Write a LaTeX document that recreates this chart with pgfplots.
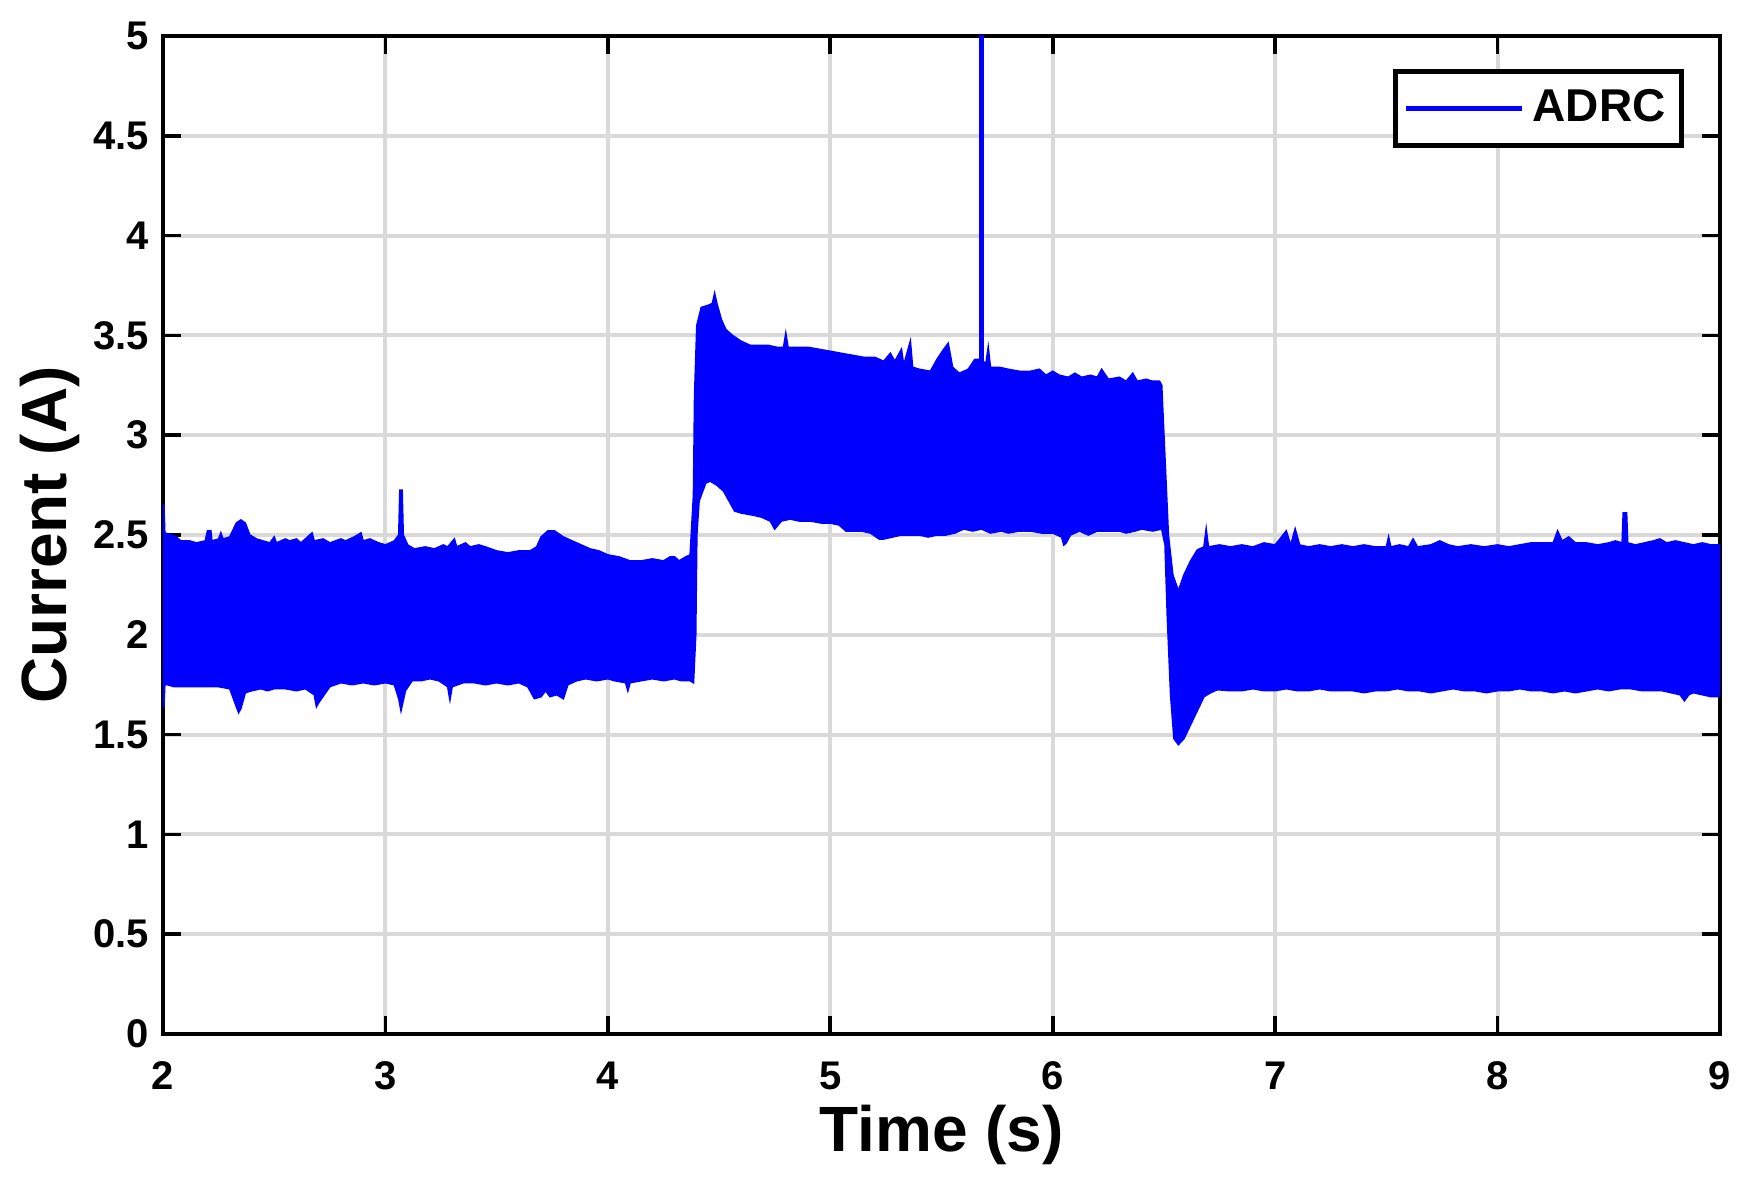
\documentclass[border=0pt]{standalone}
\usepackage{fontspec}
\setmainfont{Liberation Sans}
\usepackage{pgfplots}
\pgfplotsset{compat=1.18}
\usepackage{pgfplotstable}

\pgfplotstableread{
t y
2.000 2.65
2.004 2.65
2.008 2.51
2.04 2.50
2.06 2.49
2.08 2.47
2.12 2.47
2.15 2.46
2.19 2.47
2.20 2.52
2.215 2.52
2.22 2.47
2.25 2.48
2.26 2.51
2.27 2.48
2.30 2.49
2.33 2.56
2.35 2.575
2.37 2.56
2.39 2.50
2.42 2.48
2.45 2.47
2.48 2.46
2.50 2.49
2.51 2.46
2.55 2.48
2.57 2.47
2.60 2.48
2.62 2.46
2.66 2.50
2.67 2.51
2.68 2.47
2.72 2.48
2.75 2.46
2.80 2.48
2.82 2.47
2.86 2.49
2.89 2.51
2.90 2.47
2.93 2.48
2.97 2.46
3.00 2.45
3.04 2.47
3.06 2.50
3.065 2.725
3.075 2.725
3.08 2.50
3.10 2.45
3.13 2.43
3.18 2.44
3.22 2.43
3.26 2.45
3.28 2.44
3.31 2.48
3.32 2.44
3.36 2.46
3.38 2.44
3.42 2.45
3.45 2.44
3.50 2.42
3.55 2.41
3.60 2.42
3.65 2.42
3.68 2.44
3.70 2.49
3.73 2.52
3.76 2.52
3.80 2.49
3.84 2.47
3.88 2.45
3.92 2.43
3.96 2.42
4.00 2.40
4.05 2.39
4.10 2.37
4.15 2.37
4.20 2.38
4.25 2.37
4.28 2.39
4.30 2.39
4.32 2.37
4.35 2.39
4.37 2.40
4.385 2.70
4.39 3.20
4.40 3.55
4.42 3.64
4.45 3.65
4.47 3.66
4.48 3.71
4.49 3.66
4.51 3.58
4.53 3.53
4.56 3.50
4.60 3.47
4.64 3.45
4.68 3.45
4.72 3.45
4.76 3.44
4.79 3.44
4.80 3.51
4.81 3.44
4.85 3.44
4.90 3.44
4.95 3.43
5.00 3.42
5.05 3.41
5.10 3.40
5.15 3.39
5.20 3.39
5.24 3.37
5.27 3.41
5.29 3.37
5.32 3.43
5.33 3.35
5.36 3.47
5.37 3.34
5.40 3.33
5.45 3.32
5.48 3.38
5.51 3.43
5.53 3.46
5.55 3.34
5.58 3.31
5.62 3.33
5.65 3.38
5.67 3.38
5.70 3.36
5.71 3.44
5.72 3.34
5.76 3.34
5.80 3.33
5.85 3.32
5.90 3.32
5.94 3.33
5.97 3.30
6.00 3.32
6.03 3.30
6.07 3.29
6.10 3.31
6.13 3.29
6.17 3.30
6.20 3.29
6.22 3.33
6.25 3.28
6.30 3.29
6.33 3.27
6.36 3.31
6.38 3.27
6.42 3.28
6.45 3.27
6.48 3.27
6.49 3.25
6.50 3.00
6.52 2.50
6.54 2.30
6.565 2.22
6.59 2.30
6.62 2.37
6.65 2.425
6.68 2.44
6.69 2.53
6.70 2.44
6.75 2.45
6.80 2.44
6.85 2.45
6.90 2.44
6.95 2.46
7.00 2.45
7.05 2.52
7.07 2.45
7.09 2.53
7.11 2.45
7.15 2.44
7.20 2.45
7.25 2.44
7.30 2.45
7.35 2.44
7.40 2.45
7.45 2.44
7.50 2.44
7.51 2.49
7.52 2.44
7.56 2.45
7.60 2.44
7.62 2.48
7.64 2.44
7.70 2.45
7.74 2.47
7.78 2.45
7.82 2.44
7.88 2.45
7.94 2.44
8.00 2.45
8.05 2.44
8.10 2.45
8.15 2.46
8.20 2.46
8.25 2.46
8.27 2.52
8.29 2.47
8.32 2.49
8.35 2.46
8.40 2.46
8.45 2.45
8.50 2.46
8.53 2.47
8.56 2.46
8.565 2.61
8.58 2.61
8.585 2.46
8.62 2.45
8.66 2.46
8.70 2.47
8.73 2.48
8.76 2.46
8.80 2.47
8.84 2.46
8.88 2.45
8.92 2.46
8.96 2.45
9.00 2.45
9.00 1.69
8.96 1.69
8.92 1.70
8.88 1.71
8.86 1.70
8.84 1.67
8.82 1.70
8.78 1.71
8.74 1.72
8.70 1.72
8.65 1.72
8.60 1.73
8.55 1.73
8.50 1.72
8.45 1.73
8.40 1.72
8.35 1.71
8.30 1.72
8.25 1.71
8.20 1.72
8.15 1.72
8.10 1.73
8.05 1.72
8.00 1.72
7.95 1.71
7.90 1.72
7.85 1.72
7.80 1.73
7.75 1.72
7.70 1.71
7.65 1.72
7.60 1.72
7.55 1.73
7.50 1.72
7.45 1.72
7.40 1.71
7.35 1.72
7.30 1.72
7.25 1.72
7.20 1.73
7.15 1.72
7.10 1.72
7.05 1.73
7.00 1.72
6.95 1.72
6.90 1.73
6.85 1.72
6.80 1.72
6.74 1.725
6.71 1.71
6.68 1.69
6.65 1.62
6.62 1.55
6.59 1.48
6.565 1.45
6.545 1.48
6.53 1.70
6.515 2.10
6.505 2.45
6.49 2.53
6.45 2.52
6.40 2.53
6.37 2.52
6.33 2.51
6.30 2.52
6.25 2.52
6.20 2.52
6.16 2.50
6.12 2.52
6.08 2.50
6.06 2.46
6.05 2.45
6.04 2.49
6.00 2.51
5.95 2.51
5.90 2.52
5.85 2.52
5.80 2.51
5.77 2.52
5.72 2.51
5.68 2.53
5.64 2.52
5.60 2.53
5.56 2.51
5.52 2.50
5.48 2.50
5.44 2.49
5.40 2.50
5.36 2.50
5.32 2.50
5.28 2.49
5.24 2.48
5.22 2.48
5.18 2.51
5.14 2.52
5.10 2.52
5.07 2.52
5.04 2.55
5.00 2.56
4.96 2.56
4.91 2.57
4.86 2.57
4.82 2.58
4.78 2.57
4.75 2.53
4.73 2.57
4.69 2.59
4.65 2.60
4.60 2.61
4.57 2.62
4.54 2.68
4.52 2.72
4.49 2.75
4.46 2.77
4.44 2.76
4.42 2.70
4.41 2.67
4.40 2.50
4.395 2.00
4.385 1.76
4.37 1.77
4.33 1.77
4.30 1.78
4.25 1.77
4.20 1.78
4.15 1.77
4.10 1.76
4.09 1.72
4.08 1.76
4.03 1.77
4.00 1.78
3.95 1.77
3.90 1.78
3.86 1.77
3.82 1.75
3.80 1.68
3.77 1.70
3.74 1.69
3.72 1.72
3.70 1.69
3.67 1.68
3.64 1.74
3.60 1.76
3.55 1.75
3.50 1.76
3.45 1.75
3.40 1.76
3.35 1.76
3.30 1.74
3.29 1.675
3.28 1.74
3.24 1.77
3.20 1.78
3.16 1.77
3.12 1.77
3.09 1.72
3.07 1.62
3.06 1.68
3.04 1.75
3.00 1.76
2.95 1.75
2.90 1.76
2.85 1.75
2.80 1.76
2.75 1.74
2.70 1.66
2.69 1.64
2.68 1.70
2.64 1.73
2.60 1.72
2.55 1.73
2.50 1.73
2.47 1.72
2.44 1.73
2.40 1.72
2.37 1.71
2.35 1.63
2.34 1.61
2.33 1.64
2.30 1.73
2.25 1.74
2.20 1.74
2.15 1.74
2.10 1.74
2.05 1.74
2.02 1.75
2.008 1.75
2.004 1.64
2.000 1.64
}\band

\begin{document}
\begin{tikzpicture}
\begin{axis}[
  name=ax,
  scale only axis,
  width=389.25pt, height=249.5pt,
  xmin=2, xmax=9, ymin=0, ymax=5,
  xtick={2,3,...,9},
  ytick={0,0.5,...,5},
  yticklabels={0,0.5,1,1.5,2,2.5,3,3.5,4,4.5,5},
  xticklabels={2,3,4,5,6,7,8,9},
  grid=major,
  major grid style={line width=1pt, black!15},
  axis line style={line width=1.1pt, black},
  major tick style={line width=0.9pt, black},
  major tick length=4.5pt,
  tick align=inside,
  /pgf/number format/assume math mode=true,
  ticklabel style={font=\bfseries\fontsize{10}{12}\selectfont},
  xticklabel style={yshift=-3.4pt},
  xlabel={Time (s)},
  ylabel={Current (A)},
  label style={font=\bfseries\fontsize{16}{19}\selectfont},
  xlabel style={at={(axis description cs:0.5,-0.0705)}, anchor=north, inner sep=0pt},
  ylabel style={at={(axis description cs:-0.0527,0.5)}, rotate=0, anchor=south, inner sep=0pt},
  legend style={at={(1,1)}, anchor=north east, xshift=-9pt, yshift=-8.25pt,
    draw=black, line width=1.2pt, inner xsep=2pt, inner ysep=2.5pt,
    font=\bfseries\fontsize{11.5}{13}\selectfont},
  legend cell align=left,
  legend image code/.code={\draw[#1] (0pt,0pt) -- (29pt,0pt);},
]
\addlegendimage{blue, line width=1.3pt}
\addlegendentry{ADRC}
\addplot[fill=blue, draw=blue, line width=0.4pt, forget plot] table[x=t,y=y] {\band} -- cycle;
\addplot[blue, line width=1.1pt, forget plot] coordinates {(5.68,3.35) (5.68,5.3)};
\end{axis}
\pgfresetboundingbox
\path[use as bounding box] ([xshift=-40.75pt,yshift=-39.25pt]ax.south west) rectangle ([xshift=7.75pt,yshift=9pt]ax.north east);
\end{tikzpicture}
\end{document}
